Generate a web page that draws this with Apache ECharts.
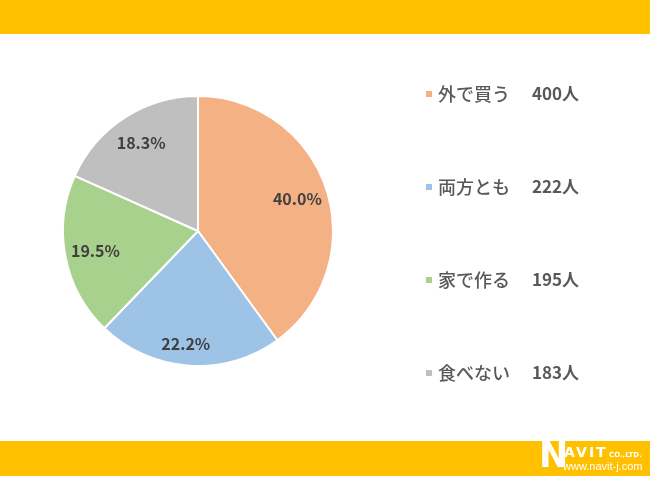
<!DOCTYPE html>
<html><head><meta charset="utf-8">
<script src="https://cdn.jsdelivr.net/npm/echarts@6/dist/echarts.min.js"></script>
<style>html,body{margin:0;padding:0;background:#fff}#c{width:650px;height:478px}</style>
</head><body><div id="c"></div>
<script>
const categories = ['外で買う', '両方とも', '家で作る', '食べない'];
const counts = [400, 222, 195, 183];
const percentLabels = ['40.0%', '22.2%', '19.5%', '18.3%'];
const colors = ['#F4B183', '#9DC3E6', '#A9D18E', '#BFBFBF'];
const unit = '人';

const chart = echarts.init(document.getElementById('c'));
const data = categories.map((n, i) => ({ name: n, value: counts[i], itemStyle: { color: colors[i] } }));
const font = '"Noto Sans CJK JP", "Noto Sans", sans-serif';
const logoFont = 'bold 14px "DejaVu Sans", sans-serif';
chart.setOption({
  animation: false,
  color: colors,
  legend: {
    orient: 'vertical', left: 419, top: 80, itemGap: 75,
    icon: 'rect', itemWidth: 8, itemHeight: 8,
    data: categories,
    formatter: name => `{n|${name}}{v|${counts[categories.indexOf(name)]}${unit}}`,
    textStyle: {
      fontFamily: font,
      rich: {
        n: { fontSize: 18, color: '#595959', fontWeight: 500, width: 94, fontFamily: font, height: 22 },
        v: { fontSize: 17, color: '#595959', fontWeight: 'bold', fontFamily: font, height: 22 }
      }
    }
  },
  graphic: [
    { type: 'rect', shape: { x: 0, y: 0, width: 650, height: 34 }, style: { fill: '#FFC000' } },
    { type: 'rect', shape: { x: 0, y: 441, width: 650, height: 35 }, style: { fill: '#FFC000' } },
    { type: 'text', x: 539, y: 440, style: { text: 'N', fill: '#fff', font: 'bold 35px "DejaVu Sans", sans-serif' } },
    { type: 'text', x: 564, y: 446, style: { text: 'A', fill: '#fff', font: logoFont } },
    { type: 'text', x: 576, y: 446, style: { text: 'V', fill: '#fff', font: logoFont } },
    { type: 'text', x: 589, y: 446, style: { text: 'I', fill: '#fff', font: logoFont } },
    { type: 'text', x: 596, y: 446, style: { text: 'T', fill: '#fff', font: logoFont } },
    { type: 'text', x: 609, y: 452, style: { text: 'CO.,LTD.', fill: '#fff', font: 'bold 7px "DejaVu Sans", sans-serif' } },
    { type: 'text', x: 563, y: 461, style: { text: 'www.navit-j.com', fill: '#fff', font: '11px "Liberation Sans", sans-serif' } }
  ],
  series: [
    {
      type: 'pie', center: [198, 231], radius: [0, 135], startAngle: 90, clockwise: true,
      data: data, silent: true,
      itemStyle: { borderColor: '#fff', borderWidth: 2 },
      label: { show: false }, labelLine: { show: false }
    },
    {
      type: 'pie', center: [198, 231], radius: [68, 135], startAngle: 90, clockwise: true,
      silent: true, legendHoverLink: false,
      data: categories.map((n, i) => ({
        name: n + '_l', value: counts[i], itemStyle: { color: 'rgba(0,0,0,0)' },
        label: i === 1 ? { offset: [-5, 9] } : {}
      })),
      label: {
        show: true, position: 'inside',
        formatter: p => percentLabels[p.dataIndex],
        fontSize: 16, fontWeight: 'bold', color: '#404040', fontFamily: font
      },
      labelLine: { show: false }
    }
  ]
});
</script></body></html>
